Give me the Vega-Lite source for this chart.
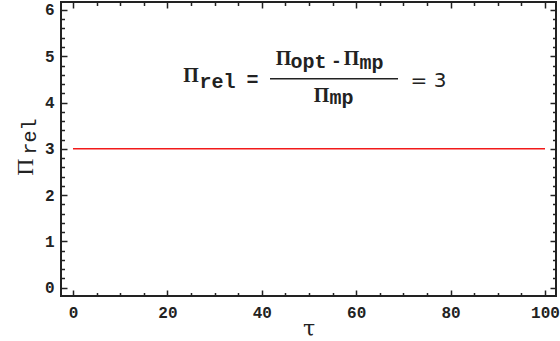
{
  "$schema": "https://vega.github.io/schema/vega-lite/v6.json",
  "width": 495,
  "height": 294,
  "autosize": "none",
  "padding": {"left": 61, "top": 2, "right": 4, "bottom": 45},
  "config": {
    "view": {"stroke": "#222", "strokeWidth": 2},
    "axis": {"grid": false, "domain": false, "tickColor": "#222", "tickWidth": 1.5}
  },
  "data": {"values": [{"tau": 0, "pi": 3}, {"tau": 100, "pi": 3}]},
  "layer": [
    {
      "layer": [
        {
          "mark": {"type": "line", "color": "#f21a1a", "strokeWidth": 1.5},
          "encoding": {
            "x": {
              "field": "tau", "type": "quantitative",
              "scale": {"domain": [-2.54, 102.33], "nice": false, "zero": false},
              "axis": {
                "orient": "bottom", "values": [0, 20, 40, 60, 80, 100], "tickSize": 6, "offset": -6,
                "labelFont": "Liberation Mono", "labelFontSize": 16, "labelFontWeight": "bold",
                "labelColor": "#222", "labelFlush": false, "labelPadding": 8,
                "title": "τ", "titleFont": "DejaVu Serif", "titleFontSize": 22, "titleColor": "#222",
                "titleFontWeight": "normal", "titleBaseline": "alphabetic", "titleY": 45
              }
            },
            "y": {
              "field": "pi", "type": "quantitative",
              "scale": {"domain": [-0.178, 6.172], "nice": false, "zero": false},
              "axis": {
                "orient": "left", "values": [0, 1, 2, 3, 4, 5, 6], "tickSize": 6, "offset": -6,
                "labelFont": "Liberation Mono", "labelFontSize": 16, "labelFontWeight": "bold",
                "labelColor": "#222", "labelFlush": false, "labelPadding": 7,
                "title": "Π", "titleFont": "Liberation Serif", "titleFontSize": 24, "titleColor": "#222",
                "titleFontWeight": "normal", "titleAngle": 270, "titleAlign": "center",
                "titleBaseline": "alphabetic", "titleX": -35, "titleY": 164.5
              }
            }
          }
        },
        {
          "mark": {"type": "line", "strokeOpacity": 0},
          "encoding": {
            "x": {"field": "tau", "type": "quantitative",
              "axis": {"orient": "bottom", "labels": false, "tickSize": 3.5, "offset": -3.5, "title": null,
                "values": [5, 10, 15, 25, 30, 35, 45, 50, 55, 65, 70, 75, 85, 90, 95]}},
            "y": {"field": "pi", "type": "quantitative",
              "axis": {"orient": "left", "labels": false, "tickSize": 3.5, "offset": -3.5,
                "values": [0.2, 0.4, 0.6, 0.8, 1.2, 1.4, 1.6, 1.8, 2.2, 2.4, 2.6, 2.8, 3.2, 3.4, 3.6, 3.8, 4.2, 4.4, 4.6, 4.8, 5.2, 5.4, 5.6, 5.8],
                "title": "rel", "titleFont": "Liberation Mono", "titleFontSize": 20, "titleColor": "#222",
                "titleFontWeight": "normal", "titleAngle": 270, "titleAlign": "center",
                "titleBaseline": "alphabetic", "titleX": -29, "titleY": 134}}
          }
        },
        {
          "mark": {"type": "line", "strokeOpacity": 0},
          "encoding": {
            "x": {"field": "tau", "type": "quantitative",
              "axis": {"orient": "top", "labels": false, "tickSize": 6, "offset": -6, "title": null, "values": [0, 20, 40, 60, 80, 100]}},
            "y": {"field": "pi", "type": "quantitative",
              "axis": {"orient": "right", "labels": false, "tickSize": 6, "offset": -6, "title": null, "values": [0, 1, 2, 3, 4, 5, 6]}}
          }
        },
        {
          "mark": {"type": "line", "strokeOpacity": 0},
          "encoding": {
            "x": {"field": "tau", "type": "quantitative",
              "axis": {"orient": "top", "labels": false, "tickSize": 3.5, "offset": -3.5, "title": null,
                "values": [5, 10, 15, 25, 30, 35, 45, 50, 55, 65, 70, 75, 85, 90, 95]}},
            "y": {"field": "pi", "type": "quantitative",
              "axis": {"orient": "right", "labels": false, "tickSize": 3.5, "offset": -3.5, "title": null,
                "values": [0.2, 0.4, 0.6, 0.8, 1.2, 1.4, 1.6, 1.8, 2.2, 2.4, 2.6, 2.8, 3.2, 3.4, 3.6, 3.8, 4.2, 4.4, 4.6, 4.8, 5.2, 5.4, 5.6, 5.8]}}
          }
        }
      ],
      "resolve": {"axis": {"x": "independent", "y": "independent"}}
    },
    {
      "data": {"values": [{}]},
      "encoding": {
        "x": {"type": "quantitative", "axis": null},
        "y": {"type": "quantitative", "axis": null}
      },
      "layer": [
        {
          "mark": {"type": "text", "text": "Π", "font": "Liberation Serif", "fontSize": 20, "fontWeight": "bold", "align": "center", "baseline": "alphabetic", "color": "#222"},
          "encoding": {"x": {"datum": 25.0, "type": "quantitative", "axis": null}, "y": {"datum": 4.442, "type": "quantitative", "axis": null}}
        },
        {
          "mark": {"type": "text", "text": "rel", "font": "Liberation Mono", "fontSize": 20, "fontWeight": "bold", "align": "center", "baseline": "alphabetic", "color": "#222"},
          "encoding": {"x": {"datum": 30.61, "type": "quantitative", "axis": null}, "y": {"datum": 4.323, "type": "quantitative", "axis": null}}
        },
        {
          "mark": {"type": "text", "text": "=", "font": "Liberation Mono", "fontSize": 20, "fontWeight": "bold", "align": "center", "baseline": "alphabetic", "color": "#222"},
          "encoding": {"x": {"datum": 38.03, "type": "quantitative", "axis": null}, "y": {"datum": 4.355, "type": "quantitative", "axis": null}}
        },
        {
          "mark": {"type": "rule", "color": "#222", "strokeWidth": 1.5},
          "encoding": {"x": {"datum": 41.74, "type": "quantitative", "axis": null}, "x2": {"datum": 68.86}, "y": {"datum": 4.517, "type": "quantitative", "axis": null}}
        },
        {
          "mark": {"type": "text", "text": "Π", "font": "Liberation Serif", "fontSize": 20, "fontWeight": "bold", "align": "center", "baseline": "alphabetic", "color": "#222"},
          "encoding": {"x": {"datum": 44.6, "type": "quantitative", "axis": null}, "y": {"datum": 4.808, "type": "quantitative", "axis": null}}
        },
        {
          "mark": {"type": "text", "text": "opt", "font": "Liberation Mono", "fontSize": 20, "fontWeight": "bold", "align": "center", "baseline": "alphabetic", "color": "#222"},
          "encoding": {"x": {"datum": 49.89, "type": "quantitative", "axis": null}, "y": {"datum": 4.743, "type": "quantitative", "axis": null}}
        },
        {
          "mark": {"type": "text", "text": "-", "font": "Liberation Mono", "fontSize": 18, "fontWeight": "bold", "align": "center", "baseline": "alphabetic", "color": "#222"},
          "encoding": {"x": {"datum": 55.83, "type": "quantitative", "axis": null}, "y": {"datum": 4.765, "type": "quantitative", "axis": null}}
        },
        {
          "mark": {"type": "text", "text": "Π", "font": "Liberation Serif", "fontSize": 20, "fontWeight": "bold", "align": "center", "baseline": "alphabetic", "color": "#222"},
          "encoding": {"x": {"datum": 59.0, "type": "quantitative", "axis": null}, "y": {"datum": 4.808, "type": "quantitative", "axis": null}}
        },
        {
          "mark": {"type": "text", "text": "mp", "font": "Liberation Mono", "fontSize": 20, "fontWeight": "bold", "align": "center", "baseline": "alphabetic", "color": "#222"},
          "encoding": {"x": {"datum": 63.24, "type": "quantitative", "axis": null}, "y": {"datum": 4.733, "type": "quantitative", "axis": null}}
        },
        {
          "mark": {"type": "text", "text": "Π", "font": "Liberation Serif", "fontSize": 20, "fontWeight": "bold", "align": "center", "baseline": "alphabetic", "color": "#222"},
          "encoding": {"x": {"datum": 52.65, "type": "quantitative", "axis": null}, "y": {"datum": 4.01, "type": "quantitative", "axis": null}}
        },
        {
          "mark": {"type": "text", "text": "mp", "font": "Liberation Mono", "fontSize": 20, "fontWeight": "bold", "align": "center", "baseline": "alphabetic", "color": "#222"},
          "encoding": {"x": {"datum": 56.89, "type": "quantitative", "axis": null}, "y": {"datum": 3.967, "type": "quantitative", "axis": null}}
        },
        {
          "mark": {"type": "text", "text": "= 3", "font": "DejaVu Sans", "fontSize": 20, "align": "center", "baseline": "alphabetic", "color": "#222"},
          "encoding": {"x": {"datum": 75.32, "type": "quantitative", "axis": null}, "y": {"datum": 4.334, "type": "quantitative", "axis": null}}
        }
      ]
    }
  ],
  "resolve": {"axis": {"x": "independent", "y": "independent"}}
}
